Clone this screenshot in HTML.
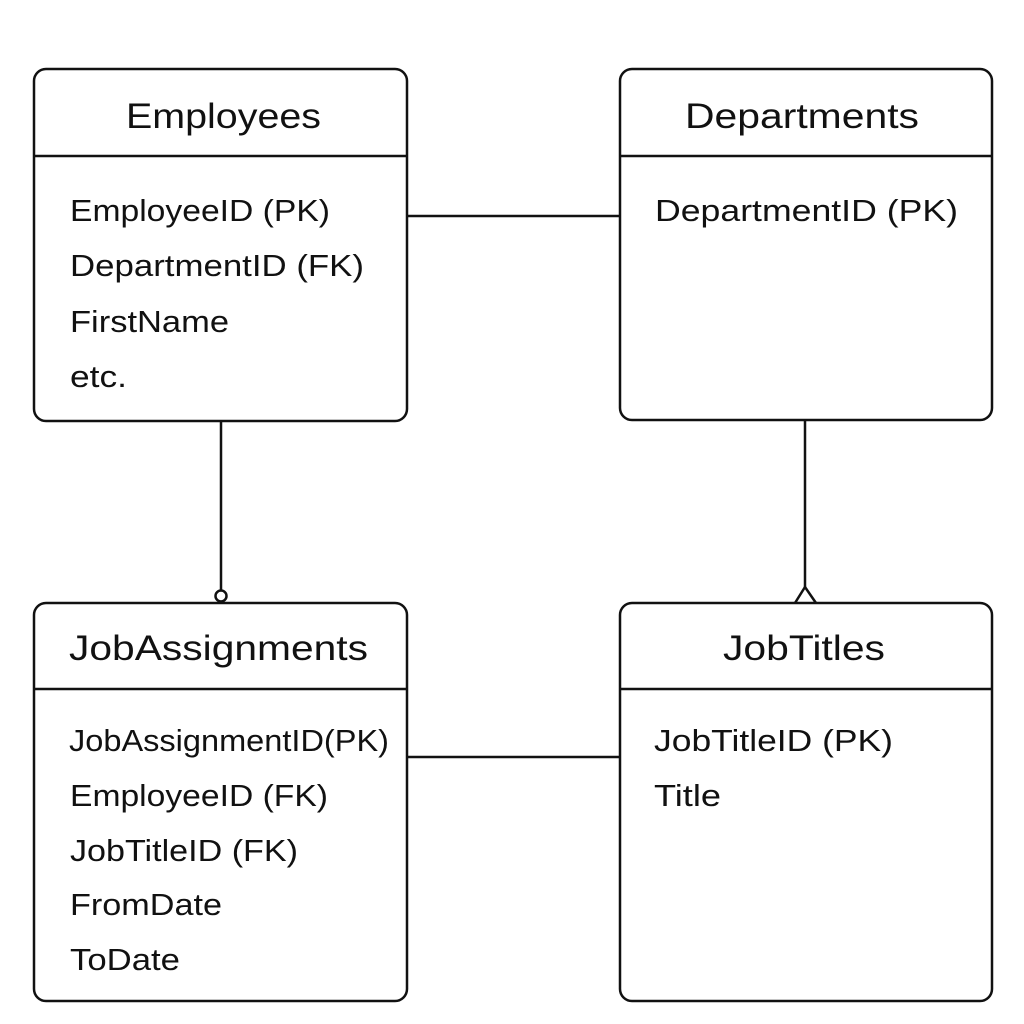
<!DOCTYPE html>
<html><head><meta charset="utf-8"><style>
html,body{margin:0;padding:0;background:#fff;}
svg{display:block;}
text{font-family:"Liberation Sans",sans-serif;fill:#111;}
.t{font-size:35px;}
.f{font-size:31px;}
</style></head><body>
<svg width="1024" height="1024" viewBox="0 0 1024 1024" xmlns="http://www.w3.org/2000/svg">
<g fill="none" stroke="#111" stroke-width="2.5">
<rect x="34" y="69" width="373" height="352" rx="12"/>
<line x1="34" y1="156" x2="407" y2="156"/>
<rect x="620" y="69" width="372" height="351" rx="12"/>
<line x1="620" y1="156" x2="992" y2="156"/>
<rect x="34" y="603" width="373" height="398" rx="12"/>
<line x1="34" y1="689" x2="407" y2="689"/>
<rect x="620" y="603" width="372" height="398" rx="12"/>
<line x1="620" y1="689" x2="992" y2="689"/>
<line x1="407" y1="216" x2="620" y2="216"/>
<line x1="407" y1="757" x2="620" y2="757"/>
<line x1="221" y1="421" x2="221" y2="591"/>
<circle cx="221" cy="596" r="5.5"/>
<line x1="805" y1="421" x2="805" y2="587"/>
<polyline points="795,603 805,587 816,603"/>
</g>
<text class="t" x="126" y="128" textLength="195" lengthAdjust="spacingAndGlyphs">Employees</text>
<text class="t" x="685" y="128" textLength="234" lengthAdjust="spacingAndGlyphs">Departments</text>
<text class="t" x="69" y="660" textLength="299" lengthAdjust="spacingAndGlyphs">JobAssignments</text>
<text class="t" x="723" y="660" textLength="162" lengthAdjust="spacingAndGlyphs">JobTitles</text>

<text class="f" x="70" y="221" textLength="260" lengthAdjust="spacingAndGlyphs">EmployeeID (PK)</text>
<text class="f" x="70" y="276" textLength="294" lengthAdjust="spacingAndGlyphs">DepartmentID (FK)</text>
<text class="f" x="70" y="332" textLength="159" lengthAdjust="spacingAndGlyphs">FirstName</text>
<text class="f" x="70" y="387" textLength="57" lengthAdjust="spacingAndGlyphs">etc.</text>

<text class="f" x="655" y="221" textLength="303" lengthAdjust="spacingAndGlyphs">DepartmentID  (PK)</text>

<text class="f" x="69" y="751" textLength="320" lengthAdjust="spacingAndGlyphs">JobAssignmentID(PK)</text>
<text class="f" x="70" y="806" textLength="258" lengthAdjust="spacingAndGlyphs">EmployeeID (FK)</text>
<text class="f" x="70" y="861" textLength="228" lengthAdjust="spacingAndGlyphs">JobTitleID (FK)</text>
<text class="f" x="70" y="915" textLength="152" lengthAdjust="spacingAndGlyphs">FromDate</text>
<text class="f" x="70" y="970" textLength="110" lengthAdjust="spacingAndGlyphs">ToDate</text>

<text class="f" x="654" y="751" textLength="239" lengthAdjust="spacingAndGlyphs">JobTitleID  (PK)</text>
<text class="f" x="654" y="806" textLength="67" lengthAdjust="spacingAndGlyphs">Title</text>
</svg>
</body></html>
